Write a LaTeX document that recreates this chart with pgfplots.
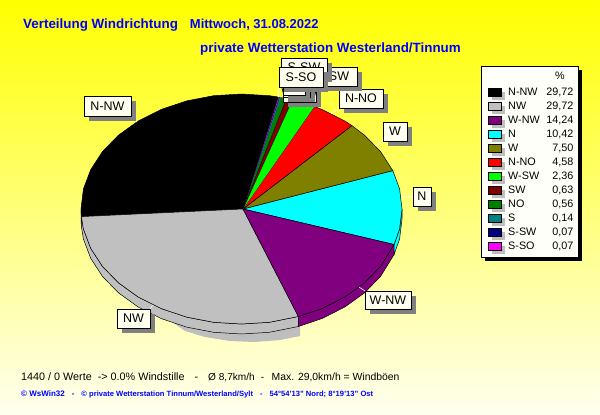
\documentclass[border=0pt]{standalone}
\usepackage{pgfplots}
\pgfplotsset{compat=1.18}
\usepackage{fontspec}
\setmainfont{Liberation Sans}
\definecolor{bgtop}{RGB}{255,255,0}
\definecolor{bgbot}{RGB}{255,255,240}
\definecolor{cNNW}{RGB}{0,0,0}
\definecolor{cNW}{RGB}{192,192,192}
\definecolor{cWNW}{RGB}{128,0,128}
\definecolor{cN}{RGB}{0,255,255}
\definecolor{cW}{RGB}{128,128,0}
\definecolor{cNNO}{RGB}{255,0,0}
\definecolor{cWSW}{RGB}{0,255,0}
\definecolor{cSW}{RGB}{128,0,0}
\definecolor{cNO}{RGB}{0,128,0}
\definecolor{cS}{RGB}{0,128,128}
\definecolor{cSSW}{RGB}{0,0,128}
\definecolor{cSSO}{RGB}{255,0,255}
\definecolor{ivory}{RGB}{255,255,240}
\definecolor{shad}{RGB}{128,128,128}
\definecolor{sh}{RGB}{190,190,190}
\newcommand{\fs}[1]{\fontsize{#1}{#1}\selectfont}
\newcommand{\lab}[5]{%
  \fill[shad] ({#1+5},{#2+5}) rectangle ({#3+5},{#4+5});
  \draw[black,line width=.6pt,fill=ivory] (#1,#2) rectangle (#3,#4);
  \node[inner sep=0pt,font=\fs{12.5}] at ({(#1+#3)/2},{(#2+#4)/2}) {#5};
}
\newcommand{\leg}[4]{% y, colour, name, value
  \fill[sh] (492,#1) rectangle (505,#1+8);
  \draw[black,line width=.8pt,fill=#2] (488,#1-4) rectangle (501,#1+4);
  \node[anchor=west,inner sep=0pt,font=\fs{10.8}] at (508,#1) {#3};
  \node[anchor=east,inner sep=0pt,font=\fs{10.8}] at (573.5,#1) {#4};
}
\begin{document}
\begin{tikzpicture}
\path[use as bounding box] (0,0) rectangle (600pt,415pt);
\shade[top color=bgtop,bottom color=bgbot] (0,0) rectangle (600pt,415pt);
\begin{axis}[anchor=center,at={(300pt,207.5pt)},width=600pt,height=415pt,scale only axis,
  hide axis,xmin=0,xmax=600,ymin=0,ymax=415,y dir=reverse,clip=false]
% shadow
\addplot[fill=sh,draw=none] coordinates {(172,322)(185,331)(205,337)(230,341)(255,342)(280,340)(300,336)(300,320)} --cycle;
% side walls: rim and rim shifted 10 px down
\addplot[fill=cNNW,draw=black,line width=.5pt] coordinates {(81,209)(81.4,216.6)(81.4,226.6)(81,219)} --cycle;
\addplot[fill=cNW,draw=black,line width=.5pt] coordinates {(81.4,216.6)(83.4,229)(90.7,248.3)(102.5,266.5)(118.6,282.9)(138.3,297.1)(161.3,308.6)(186.6,317.1)(213.6,322.3)(241.5,324)(269.4,322.3)(298.4,316.5)
 (298.4,326.5)(269.4,332.3)(241.5,334)(213.6,332.3)(186.6,327.1)(161.3,318.6)(138.3,307.1)(118.6,292.9)(102.5,276.5)(90.7,258.3)(83.4,239)(81.4,226.6)} --cycle;
\addplot[fill=cWNW,draw=black,line width=.5pt] coordinates {(298.4,316.5)(321.8,308.6)(344.7,297.1)(364.4,282.9)(380.5,266.5)(394.1,244.5)
 (394.1,254.5)(380.5,276.5)(364.4,292.9)(344.7,307.1)(321.8,318.6)(298.4,326.5)} --cycle;
\addplot[fill=cN,draw=black,line width=.5pt] coordinates {(394.1,244.5)(399.6,229)(402,209)(402,219)(399.6,239)(394.1,254.5)} --cycle;
% top faces; shares: N 10,42; W 7,50; N-NO 4,58; W-SW 2,36; SW 0,63; NO 0,56; S 0,14; S-SW 0,07; S-SO 0,07; N-NW 29,72; NW 29,72; W-NW 14,24
\addplot[fill=cN,draw=black,line width=.5pt] coordinates {(243,209)(394.1,244.5)(399.6,229)(402,209)(399.6,189)(392.8,170.6)} --cycle;
\addplot[fill=cW,draw=black,line width=.5pt] coordinates {(243,209)(392.8,170.6)(380.5,151.5)(364.4,135.1)(351.9,125.6)} --cycle;
\addplot[fill=cNNO,draw=black,line width=.5pt] coordinates {(243,209)(351.9,125.6)(344.7,120.9)(321.8,109.4)(314.4,106.5)} --cycle;
\addplot[fill=cWSW,draw=none] coordinates {(243,209)(314.4,106.5)(296.4,100.9)(292.4,99.9)} --cycle;
\addplot[fill=cSW,draw=black,line width=.3pt] coordinates {(243,209)(292.4,99.9)(286.4,98.6)} --cycle;
\addplot[fill=cNO,draw=black,line width=.3pt] coordinates {(243,209)(286.4,98.6)(280.9,97.5)} --cycle;
\addplot[fill=cS,draw=cS,line width=.3pt] coordinates {(243,209)(280.9,97.5)(279.5,97.3)} --cycle;
\addplot[fill=cSSW,draw=cSSW,line width=.2pt] coordinates {(243,209)(279.5,97.3)(278.9,97.2)} --cycle;
\addplot[fill=cSSO,draw=cSSO,line width=.2pt] coordinates {(243,209)(278.9,97.2)(278.2,97)} --cycle;
\addplot[fill=cNNW,draw=black,line width=.5pt] coordinates {(243,209)(278.2,97)(269.4,95.7)(241.5,94)(213.6,95.7)(186.6,100.9)(161.3,109.4)(138.3,120.9)(118.6,135.1)(102.5,151.5)(90.7,169.7)(83.4,189)(81,209)(81.4,216.6)} --cycle;
\addplot[fill=cNW,draw=black,line width=.5pt] coordinates {(243,209)(81.4,216.6)(83.4,229)(90.7,248.3)(102.5,266.5)(118.6,282.9)(138.3,297.1)(161.3,308.6)(186.6,317.1)(213.6,322.3)(241.5,324)(269.4,322.3)(298.4,316.5)} --cycle;
\addplot[fill=cWNW,draw=black,line width=.5pt] coordinates {(243,209)(298.4,316.5)(321.8,308.6)(344.7,297.1)(364.4,282.9)(380.5,266.5)(394.1,244.5)} --cycle;
\end{axis}
\begin{scope}[x=1pt,y=-1pt,yshift=415pt]
% leader lines
\draw[white,line width=.6pt] (133,116)--(137,122) (150,309)--(153,305) (365,291)--(359,287) (413,197)--(402,197) (383,141)--(375,146) (339,108)--(331,114) (279,87)--(278,97);
% labels
\lab{84}{96}{131}{116}{N-NW}
\lab{117}{309}{150}{328}{NW}
\lab{365}{291}{411}{309}{W-NW}
\lab{413}{187}{431}{206}{N}
\lab{383}{122}{407}{141}{W}
\lab{339}{89}{383}{108}{N-NO}
\lab{283}{84}{316}{102}{W-SW}
\lab{321}{67}{357}{86}{SW}
\lab{283}{80}{310}{97}{NO}
\lab{283}{78}{305}{95}{S}
\lab{281}{58}{327}{77}{S-SW}
\lab{279}{67}{323}{87}{S-SO}
% titles
\node[anchor=west,inner sep=0pt,text=blue,font=\fs{13.4}\bfseries] at (23,25.5) {Verteilung Windrichtung\hspace{12pt}{\fs{13}Mittwoch, 31.08.2022}};
\node[anchor=west,inner sep=0pt,text=blue,font=\fs{13.4}\bfseries] at (200,49.5) {private Wetterstation Westerland/Tinnum};
\node[anchor=west,inner sep=0pt,font=\fs{10.8}] at (21,377) {1440 / 0 Werte\hspace{6pt}-> 0.0\% Windstille\hspace{10pt}-\hspace{10pt}{\fs{10.1}Ø 8,7km/h\hspace{6pt}-\hspace{7.5pt}{\fs{10.4}Max. 29,0km/h = Windböen}}};
\node[anchor=west,inner sep=0pt,text=blue,font=\fs{8}\bfseries] at (21,394.5) {© WsWin32\hspace{7pt}-\hspace{7pt}{\fs{7.6}© private Wetterstation Tinnum/Westerland/Sylt\hspace{7pt}-\hspace{7pt}54°54'13" Nord; 8°19'13" Ost}};
% legend
\fill[black] (485,70) rectangle (582,261);
\draw[black,line width=.8pt,fill=ivory!40!white] (481,66) rectangle (578,257);
\node[inner sep=0pt,font=\fs{10.8}] at (560,76) {\%};
\leg{92}{cNNW}{N-NW}{29,72}
\leg{106}{cNW}{NW}{29,72}
\leg{120}{cWNW}{W-NW}{14,24}
\leg{134}{cN}{N}{10,42}
\leg{148}{cW}{W}{7,50}
\leg{162}{cNNO}{N-NO}{4,58}
\leg{176}{cWSW}{W-SW}{2,36}
\leg{190}{cSW}{SW}{0,63}
\leg{204}{cNO}{NO}{0,56}
\leg{218}{cS}{S}{0,14}
\leg{232}{cSSW}{S-SW}{0,07}
\leg{246}{cSSO}{S-SO}{0,07}
\end{scope}
\end{tikzpicture}
\end{document}
